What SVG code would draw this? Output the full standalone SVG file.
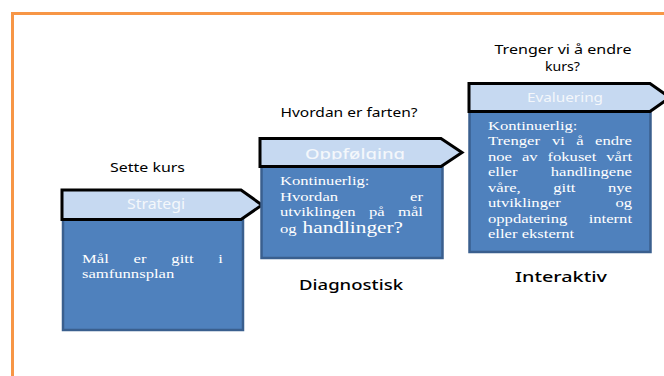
<svg xmlns="http://www.w3.org/2000/svg" width="664" height="376" viewBox="0 0 664 376">
<style>
.frame{fill:none;stroke:#f79646;stroke-width:3}
.hdr{fill:#c6d9f1;stroke:#000;stroke-width:3;stroke-linejoin:miter}
.body{fill:#4f81bd;stroke:#3a5f8e;stroke-width:2.5}
.ht{font-family:"Noto Sans","Open Sans",sans-serif;fill:#f4f7fb;text-anchor:middle}
.bt{font-family:"Liberation Serif","Times New Roman",serif;font-size:12.5px;fill:#ffffff}
.lbl{font-family:"Noto Sans","Open Sans",sans-serif;fill:#000;text-anchor:middle;font-size:12.5px}
.lblb{font-family:"Noto Sans","Open Sans",sans-serif;fill:#000;text-anchor:middle;font-size:14px;font-weight:500}
</style>
<defs>
<clipPath id="clipOpp"><rect x="260" y="138" width="200" height="21.5"/></clipPath>
</defs>
<rect width="664" height="376" fill="#ffffff"/>
<path class="frame" d="M12.5,376 V13.5 H664"/>

<g id="labels">
<text class="lbl" x="147.5" y="172" textLength="75" lengthAdjust="spacingAndGlyphs">Sette kurs</text>
<text class="lbl" x="349" y="117" textLength="137" lengthAdjust="spacingAndGlyphs">Hvordan er farten?</text>
<text class="lbl" x="563" y="54" font-size="12" style="font-size:12px" textLength="137" lengthAdjust="spacingAndGlyphs">Trenger vi å endre</text>
<text class="lbl" x="562.5" y="70.5" style="font-size:12px" textLength="35" lengthAdjust="spacingAndGlyphs">kurs?</text>
<text class="lblb" x="351" y="290" textLength="104" lengthAdjust="spacingAndGlyphs">Diagnostisk</text>
<text class="lblb" x="561" y="282" textLength="92" lengthAdjust="spacingAndGlyphs">Interaktiv</text>
</g>

<g id="node-strategi">
<rect class="body" x="63" y="219" width="180" height="111"/>
<path class="hdr" d="M62,190 H241 L262,205 L241,219.5 H62 Z"/>
<text class="ht" x="156" y="209" font-size="14" textLength="58" lengthAdjust="spacingAndGlyphs">Strategi</text>
<g class="bt" transform="translate(82,0) scale(1.33,1)">
<text y="263"><tspan x="0">Mål</tspan><tspan x="38.8">er</tspan><tspan x="67.2">gitt</tspan><tspan x="102.5">i</tspan></text>
<text x="0" y="278">samfunnsplan</text>
</g>
</g>

<g id="node-oppfolging">
<rect class="body" x="261.5" y="166" width="181" height="92"/>
<path class="hdr" d="M260,138.5 H441 L462,152.5 L441,166.5 H260 Z"/>
<text class="ht" x="355" y="158.5" font-size="15" font-weight="500" textLength="100" lengthAdjust="spacingAndGlyphs" clip-path="url(#clipOpp)">Oppfølging</text>
<g class="bt" transform="translate(280,0) scale(1.33,1)">
<text x="0" y="185.5">Kontinuerlig:</text>
<text y="201"><tspan x="0">Hvordan</tspan><tspan x="97.8">er</tspan></text>
<text y="216.5"><tspan x="0">utviklingen</tspan><tspan x="66.9">på</tspan><tspan x="88.7">mål</tspan></text>
<text y="233.5"><tspan x="0">og</tspan><tspan x="17" font-size="16">handlinger?</tspan></text>
</g>
</g>

<g id="node-evaluering">
<rect class="body" x="469.5" y="111" width="181" height="141"/>
<path class="hdr" d="M469,83.5 H650 L670,97.5 L650,111.5 H469 Z"/>
<text class="ht" x="565" y="101.5" font-size="13" textLength="76" lengthAdjust="spacingAndGlyphs">Evaluering</text>
<g class="bt" transform="translate(488,0) scale(1.33,1)">
<text x="0" y="130">Kontinuerlig:</text>
<text y="145.5"><tspan x="0">Trenger</tspan><tspan x="48.1">vi</tspan><tspan x="66.3">å</tspan><tspan x="80.5">endre</tspan></text>
<text y="161"><tspan x="0">noe</tspan><tspan x="25.5">av</tspan><tspan x="44.7">fokuset</tspan><tspan x="88.9">vårt</tspan></text>
<text y="176.5"><tspan x="0">eller</tspan><tspan x="47.2">handlingene</tspan></text>
<text y="192"><tspan x="0">våre,</tspan><tspan x="49.1">gitt</tspan><tspan x="90.2">nye</tspan></text>
<text y="207.5"><tspan x="0">utviklinger</tspan><tspan x="95.8">og</tspan></text>
<text y="223"><tspan x="0">oppdatering</tspan><tspan x="75.7">internt</tspan></text>
<text x="0" y="238.5">eller eksternt</text>
</g>
</g>

<g id="connectors"></g>
</svg>
